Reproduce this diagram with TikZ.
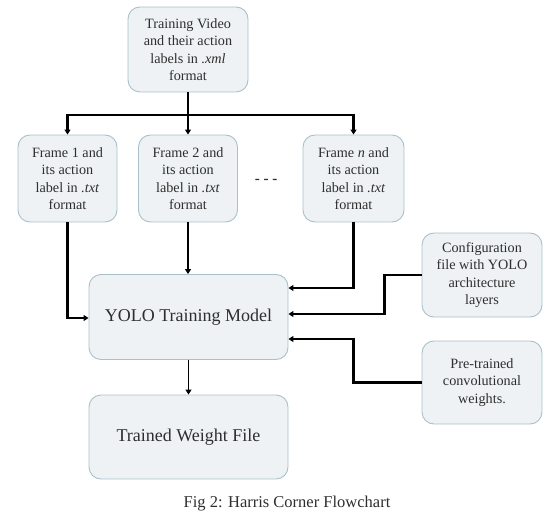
\documentclass[tikz,border=0pt]{standalone}
\usepackage{fontspec}
\setmainfont{Liberation Serif}
\usetikzlibrary{arrows.meta}
\definecolor{boxfill}{HTML}{EEF2F4}
\definecolor{boxline}{HTML}{A9C1CA}
\definecolor{txt}{HTML}{2E2E2E}
\tikzset{
  flowbox/.style={draw=boxline, fill=boxfill, line width=0.9pt, rounded corners=12pt, inner sep=0pt, text=txt, align=center},
  smalltxt/.style={font=\fontsize{14.2}{17.5}\selectfont},
  bigtxt/.style={font=\fontsize{18}{20}\selectfont},
  conn/.style={line width=2.2pt, black, -{Triangle[length=5pt,width=6pt]}},
  thinconn/.style={line width=1.6pt, black, -{Triangle[length=5pt,width=6pt]}},
  plain/.style={line width=2.2pt, black}
}
\begin{document}
\begin{tikzpicture}[x=1pt,y=-1pt]
\useasboundingbox (0,0) rectangle (559,521);
% boxes
\node[flowbox, smalltxt, minimum width=120pt, minimum height=85pt] (top) at (188,49.5) {Training Video\\and their action\\labels in \textit{.xml}\\format};
\node[flowbox, smalltxt, minimum width=99pt, minimum height=87pt] (f1) at (67.5,178.5) {Frame 1 and\\its action\\label in \textit{.txt}\\format};
\node[flowbox, smalltxt, minimum width=99pt, minimum height=87pt] (f2) at (188,178.5) {Frame 2 and\\its action\\label in \textit{.txt}\\format};
\node[flowbox, smalltxt, minimum width=101pt, minimum height=87pt] (fn) at (353.5,178.5) {Frame \textit{n} and\\its action\\label in \textit{.txt}\\format};
\node[text=txt, font=\bfseries\fontsize{15}{15}\selectfont] (dots) at (266,181) {- - -};
\node[flowbox, bigtxt, minimum width=199pt, minimum height=85pt] (yolo) at (188.5,317) {YOLO Training Model};
\node[flowbox, bigtxt, minimum width=199pt, minimum height=84pt] (tw) at (188.5,437) {Trained Weight File};
\node[flowbox, smalltxt, minimum width=120pt, minimum height=84pt] (cfg) at (482,275) {Configuration\\file with YOLO\\architecture\\layers};
\node[flowbox, smalltxt, minimum width=120pt, minimum height=83pt] (pre) at (482,382.5) {Pre-trained\\convolutional\\weights.};
\node[text=txt, font=\fontsize{16.5}{16.5}\selectfont] (cap) at (287,504) {Fig 2: Harris Corner Flowchart};
% connectors
\coordinate (split) at (188,115);
\draw[plain] (top.south) -- (split);
\draw[conn] (split) -| (f1.north);
\draw[conn] (split) -- (f2.north);
\draw[conn] (split) -| (fn.north);
\draw[conn] (f1.south) |- ([yshift=-1pt]yolo.west);
\draw[thinconn] (f2.south) -- (f2.south |- yolo.north);
\draw[conn] (fn.south) |- ([yshift=29pt]yolo.east);
\draw[conn] (cfg.west) -- ++(-37,0) |- ([yshift=3pt]yolo.east);
\draw[conn] (pre.west) -- ++(-68,0) |- ([yshift=-22pt]yolo.east);
\draw[thinconn] (yolo.south) -- (tw.north);
\end{tikzpicture}
\end{document}
